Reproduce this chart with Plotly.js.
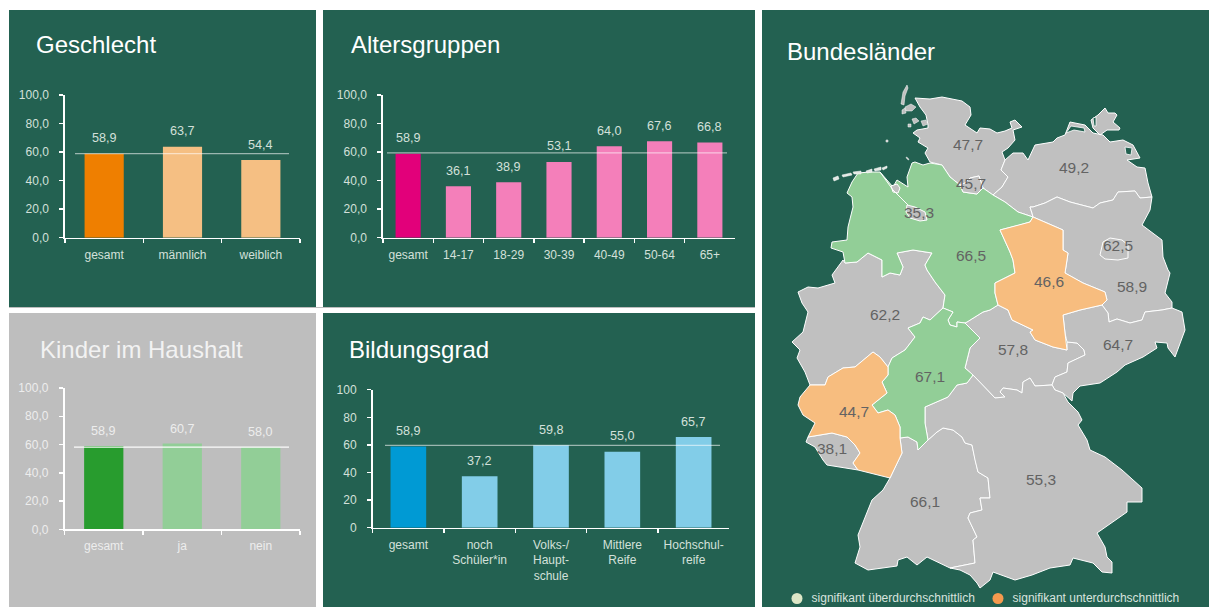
<!DOCTYPE html>
<html lang="de"><head><meta charset="utf-8">
<script src="https://cdn.plot.ly/plotly-3.0.1.min.js"></script>
<style>html,body{margin:0;padding:0;background:#fff;overflow:hidden}#c{width:1209px;height:607px}</style>
</head><body><div id="c"></div>
<script>
// ---- bar data ----
const genderCats = ['gesamt','männlich','weiblich'];
const genderVals = [58.9,63.7,54.4];
const ageCats = ['gesamt','14-17','18-29','30-39','40-49','50-64','65+'];
const ageVals = [58.9,36.1,38.9,53.1,64.0,67.6,66.8];
const kidsCats = ['gesamt','ja','nein'];
const kidsVals = [58.9,60.7,58.0];
const eduCats = ['gesamt','noch<br>Schüler*in','Volks-/<br>Haupt-<br>schule','Mittlere<br>Reife','Hochschul-<br>reife'];
const eduVals = [58.9,37.2,59.8,55.0,65.7];
const meanLine = [58.9,59.5,58.2,59.6];

// ---- map data: Bundesländer, values, label anchors, outlines in map units ----
const stateNames = ['SH','HH','MV','BB','BE','HB','NI','ST','NW','HE','RP','SL','BW','BY','TH','SN'];
const stateVals  = [47.7,45.7,49.2,58.9,62.5,35.3,66.5,46.6,62.2,67.1,44.7,38.1,66.1,55.3,57.8,64.7];
const labelX = [968,971,1074,1132,1118,919,971,1049,885,930,854,832,925,1041,1013,1118];
const labelY = [146,185,169,288,247,214,257,283,316,378,413,450,503,481,351,346];

const outlineNI = [[847,193],[852,182],[858,173],[870,172],[880,172],[893,187],[897,180],[908,187],[907,177],[912,163],[915,162],[923,165],[930,163],[942,165],[950,177],[960,185],[963,192],[977,194],[983,188],[993,195],[1005,202],[1018,212],[1033,217],[1030,222],[1020,225],[1000,230],[1010,252],[1013,260],[1015,273],[995,283],[995,293],[998,305],[990,310],[983,312],[967,322],[965,323],[957,322],[957,327],[950,325],[948,320],[953,312],[943,308],[945,295],[935,282],[927,270],[925,265],[932,253],[913,250],[897,253],[903,267],[900,275],[890,273],[882,277],[882,260],[868,253],[857,262],[845,263],[843,252],[831,248],[832,242],[847,240],[848,227],[853,207],[852,197]];
const outlineHE = [[943,308],[953,312],[948,320],[950,325],[957,327],[957,322],[965,323],[980,338],[970,348],[965,368],[973,375],[967,383],[957,385],[948,397],[925,407],[925,423],[928,440],[918,450],[917,442],[908,437],[900,438],[900,427],[895,415],[888,410],[878,413],[872,405],[887,393],[882,382],[888,375],[888,367],[892,358],[905,350],[915,337],[908,328],[920,323],[923,317],[930,320]];
const outlineRP = [[810,385],[825,385],[828,377],[843,368],[855,367],[873,352],[880,357],[888,367],[888,375],[882,382],[887,393],[872,405],[878,413],[888,410],[895,415],[900,427],[900,438],[902,453],[890,478],[858,470],[853,463],[860,453],[855,445],[847,437],[832,433],[808,437],[815,423],[803,415],[798,405],[800,397]];
const outlineST = [[1000,230],[1020,225],[1030,222],[1033,217],[1047,223],[1063,230],[1063,250],[1068,253],[1067,260],[1065,273],[1083,283],[1105,292],[1107,300],[1102,305],[1080,310],[1063,315],[1065,333],[1067,350],[1053,347],[1035,340],[1030,332],[1033,330],[1012,320],[1008,310],[1000,306],[998,305],[995,293],[995,283],[1015,273],[1013,260],[1010,252]];
const outlineSH = [[915,98],[930,99],[942,97],[953,99],[962,101],[970,107],[971,115],[965,125],[977,133],[980,128],[990,129],[997,133],[1005,131],[1012,128],[1010,122],[1015,120],[1022,127],[1013,130],[1015,140],[1008,148],[1002,152],[1005,160],[1001,170],[1008,177],[1002,187],[993,195],[983,188],[979,176],[970,178],[965,183],[960,185],[950,177],[942,165],[930,162],[925,153],[928,148],[918,142],[920,138],[913,133],[917,130],[928,128],[928,125],[926,115],[920,107]];
const outlineHH = [[960,185],[965,183],[970,178],[979,176],[983,188],[977,194],[963,192]];
const outlineMV = [[1005,160],[1013,153],[1023,153],[1028,160],[1035,145],[1053,142],[1057,138],[1065,135],[1070,122],[1085,125],[1090,130],[1093,133],[1103,135],[1110,142],[1123,140],[1133,145],[1140,158],[1127,160],[1137,167],[1145,168],[1148,183],[1152,197],[1140,198],[1135,191],[1118,192],[1113,200],[1100,203],[1093,208],[1070,202],[1057,197],[1045,203],[1033,207],[1030,207],[1032,213],[1033,217],[1018,212],[1005,202],[993,195],[1002,187],[1008,177],[1001,170]];
const outlineRuegen = [[1098,115],[1105,108],[1108,113],[1115,113],[1117,115],[1113,122],[1120,128],[1119,130],[1107,130],[1100,135],[1093,128],[1091,120]];
const outlineBB = [[1030,207],[1033,207],[1045,203],[1057,197],[1070,202],[1093,208],[1100,203],[1113,200],[1118,192],[1135,191],[1140,198],[1152,197],[1150,210],[1142,225],[1162,240],[1163,257],[1168,270],[1170,273],[1165,293],[1172,302],[1172,308],[1162,310],[1145,312],[1142,320],[1130,323],[1117,319],[1109,322],[1108,313],[1102,305],[1107,300],[1105,292],[1083,283],[1065,273],[1067,260],[1068,253],[1063,250],[1063,230],[1047,223],[1033,217],[1032,213]];
const outlineBE = [[1103,242],[1110,238],[1122,240],[1128,245],[1128,258],[1118,260],[1105,259],[1100,255]];
const outlineHB = [[907,205],[915,207],[925,212],[927,220],[920,221],[910,218],[906,212]];
const outlineHBport = [[891,186],[897,184],[900,188],[898,193],[893,192]];
const outlineNW = [[843,260],[845,263],[857,262],[868,253],[882,260],[882,277],[890,273],[900,275],[903,267],[897,253],[913,250],[932,253],[925,265],[927,270],[935,282],[945,295],[943,308],[930,320],[923,317],[920,323],[908,328],[915,337],[905,350],[892,358],[888,367],[880,357],[873,352],[855,367],[843,368],[828,377],[825,385],[810,385],[805,372],[797,358],[800,350],[792,342],[803,332],[808,312],[802,303],[798,292],[808,287],[818,288],[835,283],[832,275]];
const outlineSL = [[808,437],[832,433],[847,437],[855,445],[860,453],[853,463],[858,470],[827,465],[823,460],[815,447],[806,442]];
const outlineBW = [[890,478],[902,453],[900,438],[908,437],[917,442],[918,450],[928,440],[937,432],[943,428],[953,430],[962,437],[965,443],[972,445],[975,460],[978,472],[988,478],[990,498],[980,498],[982,510],[970,513],[968,518],[977,537],[973,540],[975,563],[950,568],[927,557],[917,565],[907,557],[898,560],[897,566],[868,570],[855,563],[860,547],[858,535],[865,517],[872,500],[883,490]];
const outlineBY = [[925,407],[948,397],[957,385],[967,383],[973,375],[980,382],[995,398],[1005,397],[1000,392],[1003,388],[1017,390],[1022,393],[1023,382],[1030,378],[1035,386],[1052,385],[1055,390],[1063,393],[1068,402],[1078,412],[1082,420],[1078,425],[1087,440],[1090,450],[1105,457],[1122,470],[1142,488],[1142,502],[1127,502],[1127,512],[1113,522],[1097,533],[1105,547],[1107,557],[1112,562],[1112,573],[1102,572],[1093,563],[1073,558],[1070,565],[1050,568],[1032,575],[1015,580],[993,572],[990,580],[980,588],[977,583],[970,575],[960,570],[950,568],[975,563],[973,540],[977,537],[968,518],[970,513],[982,510],[980,498],[990,498],[988,478],[978,472],[975,460],[972,445],[965,443],[962,437],[953,430],[943,428],[937,432],[928,440],[925,423]];
const outlineTH = [[998,305],[1000,306],[1008,310],[1012,320],[1033,330],[1030,332],[1035,340],[1053,347],[1067,350],[1067,342],[1077,343],[1084,350],[1085,355],[1068,363],[1067,372],[1055,377],[1052,385],[1035,386],[1030,378],[1023,382],[1022,393],[1017,390],[1003,388],[1000,392],[1005,397],[995,398],[980,382],[973,375],[965,368],[970,348],[980,338],[965,323],[967,322],[983,312],[990,310]];
const outlineSN = [[1063,315],[1080,310],[1102,305],[1108,313],[1109,322],[1117,319],[1130,323],[1142,320],[1145,312],[1162,310],[1172,308],[1182,312],[1185,330],[1175,357],[1168,348],[1167,343],[1155,342],[1157,348],[1143,357],[1125,365],[1117,372],[1100,383],[1080,386],[1073,393],[1072,401],[1063,393],[1055,390],[1052,385],[1055,377],[1067,372],[1068,363],[1085,355],[1084,350],[1077,343],[1067,342],[1065,333]];
const weserLine = [[880,172],[893,190],[908,205]];
const northSeaIslands = [
 [[901,104],[903,92],[907,85],[908,88],[905,96],[904,105]],
 [[905,107],[911,104],[916,107],[912,111],[906,111]],
 [[902,110],[905,108],[906,113],[902,114]],
 [[912,119],[916,118],[919,121],[914,124]],
 [[921,121],[926,120],[928,124],[923,126]],
 [[908,124],[911,124],[911,127],[908,127]],
 [[886,140],[888,140],[888,142],[886,142]],
 [[906,157],[908,158],[909,160],[907,159]]
];
const frisianIslands = [
 [[833,178],[838,176],[839,179],[834,181]],
 [[842,175],[851,173],[852,175],[843,177]],
 [[853,172],[861,171],[861,174],[854,174]],
 [[866,171],[872,169],[872,172],[867,173]],
 [[874,169],[881,167],[881,170],[875,171]],
 [[882,168],[887,166],[887,168],[883,170]]
];
const baltBodden = [
 [[1066,133],[1071,126],[1084,128],[1085,132],[1074,130]],
 [[1125,147],[1132,148],[1131,155],[1126,154]],
 [[1093,118],[1096,117],[1096,126],[1094,126]]
];
const legendLabels = ['signifikant überdurchschnittlich','signifikant unterdurchschnittlich'];
const legendColors = ['#DDE7C7','#F59A4E'];
const legendX = [797,998];
const legendY = [598.5,598.5];

// ---- palette ----
const GREEN='#236151', GREY='#BEBEBE', MAPGREY='#C0C0C0', MAPGREEN='#92CE97', MAPORANGE='#F7BD7F';
const FONT='"Liberation Sans", Arial, sans-serif';
const W=1209,H=607;

const panels=[
 {k:'',x0:65,x1:300,y0:95,y1:237.7,cats:genderCats,vals:genderVals,c0:'#EF7F00',c1:'#F5BF83',title:'Geschlecht',tx:34,ty:45,fmt:'.1f',txt:'#D3E0DA',line:'rgba(255,255,255,.55)',lx:[75,289],mean:meanLine[0],shift:15.5},
 {k:'2',x0:383,x1:735,y0:95,y1:237.7,cats:ageCats,vals:ageVals,c0:'#E2007A',c1:'#F47FBA',title:'Altersgruppen',tx:349,ty:45,fmt:'.1f',txt:'#D3E0DA',line:'rgba(255,255,255,.55)',lx:[387,727],mean:meanLine[1],shift:15.5},
 {k:'3',x0:64.5,x1:300,y0:388,y1:529.3,cats:kidsCats,vals:kidsVals,c0:'#289C2E',c1:'#92CE97',title:'Kinder im Haushalt',tx:38,ty:349,fmt:'.1f',txt:'#EDEDED',line:'rgba(255,255,255,.95)',lx:[74,289],mean:meanLine[2],shift:15},
 {k:'4',x0:372.7,x1:729.3,y0:389.7,y1:527.7,cats:eduCats,vals:eduVals,c0:'#009AD4',c1:'#82CDE8',title:'Bildungsgrad',tx:347,ty:349,fmt:'.0f',txt:'#D3E0DA',line:'rgba(255,255,255,.55)',lx:[385,720],mean:meanLine[3],shift:15.5}
];
const boxes=[[9,10,316,307,GREEN],[323,10,755,307,GREEN],[9,313,316,607,GREY],[323,313,755,607,GREEN],[762,10,1209,607,GREEN]];

const traces=[], annotations=[], shapes=[];
const layout={width:W,height:H,margin:{l:0,r:0,t:0,b:0},paper_bgcolor:'#fff',plot_bgcolor:'rgba(0,0,0,0)',
  separators:',.',showlegend:false,bargap:0.5,font:{family:FONT,size:12},annotations,shapes};

boxes.forEach(b=>shapes.push({type:'rect',xref:'paper',yref:'paper',x0:b[0]/W,x1:b[2]/W,y0:1-b[1]/H,y1:1-b[3]/H,
  fillcolor:b[4],line:{width:0},layer:'below'}));
// thin shadow strip between the upper and lower row
shapes.push({type:'rect',xref:'paper',yref:'paper',x0:9/W,x1:755/W,y0:1-307/H,y1:1-308/H,fillcolor:'#BDBDBD',line:{width:0},layer:'below'});

panels.forEach(p=>{
  const xa='x'+p.k, ya='y'+p.k;
  traces.push({type:'bar',x:p.cats,y:p.vals,xaxis:xa,yaxis:ya,hoverinfo:'skip',width:0.5,
    marker:{color:p.vals.map((_,i)=>i===0?p.c0:p.c1),line:{width:0}}});
  layout['xaxis'+p.k]={domain:[p.x0/W,p.x1/W],anchor:ya,type:'category',range:[-0.5,p.cats.length-0.5],fixedrange:true,
    tickson:'boundaries',ticks:'outside',ticklen:4,tickwidth:1.5,tickcolor:'#fff',showline:true,linecolor:'#fff',linewidth:1.7,
    showgrid:false,zeroline:false,tickangle:0,ticklabelstandoff:5,tickfont:{family:FONT,size:12,color:p.txt},automargin:false};
  layout['yaxis'+p.k]={domain:[1-p.y1/H,1-p.y0/H],anchor:xa,range:[0,100],tickvals:[0,20,40,60,80,100],tickformat:p.fmt,fixedrange:true,
    ticks:'outside',ticklen:4,tickwidth:1.5,tickcolor:'#fff',showline:true,linecolor:'#fff',linewidth:1.7,showgrid:false,zeroline:false,
    ticklabelstandoff:8,tickfont:{family:FONT,size:12,color:p.txt},automargin:false};
  const cw=(p.x1-p.x0)/p.cats.length;
  shapes.push({type:'line',xref:xa,yref:ya,x0:(p.lx[0]-p.x0)/cw-0.5,x1:(p.lx[1]-p.x0)/cw-0.5,y0:p.mean,y1:p.mean,
    line:{color:p.line,width:1.3},layer:'above'});
  p.vals.forEach((v,i)=>annotations.push({xref:xa,yref:ya,x:i,y:v,yshift:p.shift,yanchor:'middle',xanchor:'center',showarrow:false,
    text:v.toFixed(1).replace('.',','),font:{family:FONT,size:12.6,color:p.txt}}));
  annotations.push({xref:'paper',yref:'paper',x:p.tx/W,y:1-p.ty/H,xanchor:'left',yanchor:'middle',showarrow:false,text:p.title,
    font:{family:FONT,size:24,color:p.k==='3'?'#F2F2F2':'#FFFFFF'}});
});
annotations.push({xref:'paper',yref:'paper',x:785/W,y:1-52/H,xanchor:'left',yanchor:'middle',showarrow:false,text:'Bundesländer',
  font:{family:FONT,size:24,color:'#FFFFFF'}});

// ---- map ----
layout.xaxis5={domain:[0,1],range:[0,W],visible:false,fixedrange:true,anchor:'y5'};
layout.yaxis5={domain:[0,1],range:[H,0],visible:false,fixedrange:true,anchor:'x5'};
function polyXY(list){const x=[],y=[];list.forEach((poly,i)=>{if(i){x.push(null);y.push(null);}
  poly.forEach(p=>{x.push(p[0]);y.push(p[1]);});x.push(poly[0][0]);y.push(poly[0][1]);});return {x,y};}
function addState(list,color,w){const d=polyXY(list);
  traces.push({type:'scatter',mode:'lines',x:d.x,y:d.y,xaxis:'x5',yaxis:'y5',fill:'toself',fillcolor:color,
    line:{color:'#fff',width:w||1},hoverinfo:'skip'});}
[[[outlineNW],MAPGREY],[[outlineSH],MAPGREY],[[outlineMV,outlineRuegen],MAPGREY],[[outlineBB],MAPGREY],
 [[outlineTH],MAPGREY],[[outlineSN],MAPGREY],[[outlineBW],MAPGREY],[[outlineBY],MAPGREY],[[outlineSL],MAPGREY],
 [[outlineNI],MAPGREEN],[[outlineHE],MAPGREEN],[[outlineRP],MAPORANGE],[[outlineST],MAPORANGE],
 [[outlineHH],MAPGREY],[[outlineBE],MAPGREY],[[outlineHB,outlineHBport],MAPGREY]].forEach(s=>addState(s[0],s[1]));
addState(northSeaIslands,MAPGREY,0.5);
addState(frisianIslands,'#E4E8E4',0.5);
addState(baltBodden,GREEN,0.8);
traces.push({type:'scatter',mode:'lines',x:weserLine.map(p=>p[0]),y:weserLine.map(p=>p[1]),xaxis:'x5',yaxis:'y5',line:{color:'#fff',width:1},hoverinfo:'skip'});
traces.push({type:'scatter',mode:'text',x:labelX,y:labelY,xaxis:'x5',yaxis:'y5',text:stateVals.map(v=>v.toFixed(1).replace('.',',')),
  textposition:'middle center',textfont:{family:FONT,size:15.5,color:'#636363'},hoverinfo:'skip',name:'Bundesländer'});
traces.push({type:'scatter',mode:'markers+text',x:legendX,y:legendY,xaxis:'x5',yaxis:'y5',text:legendLabels.map(t=>'  '+t),textposition:'middle right',
  marker:{size:11,color:legendColors,line:{width:0}},textfont:{family:FONT,size:12,color:'#D9E4DF'},hoverinfo:'skip',cliponaxis:false});

Plotly.newPlot('c',traces,layout,{displayModeBar:false,staticPlot:true});
</script></body></html>
